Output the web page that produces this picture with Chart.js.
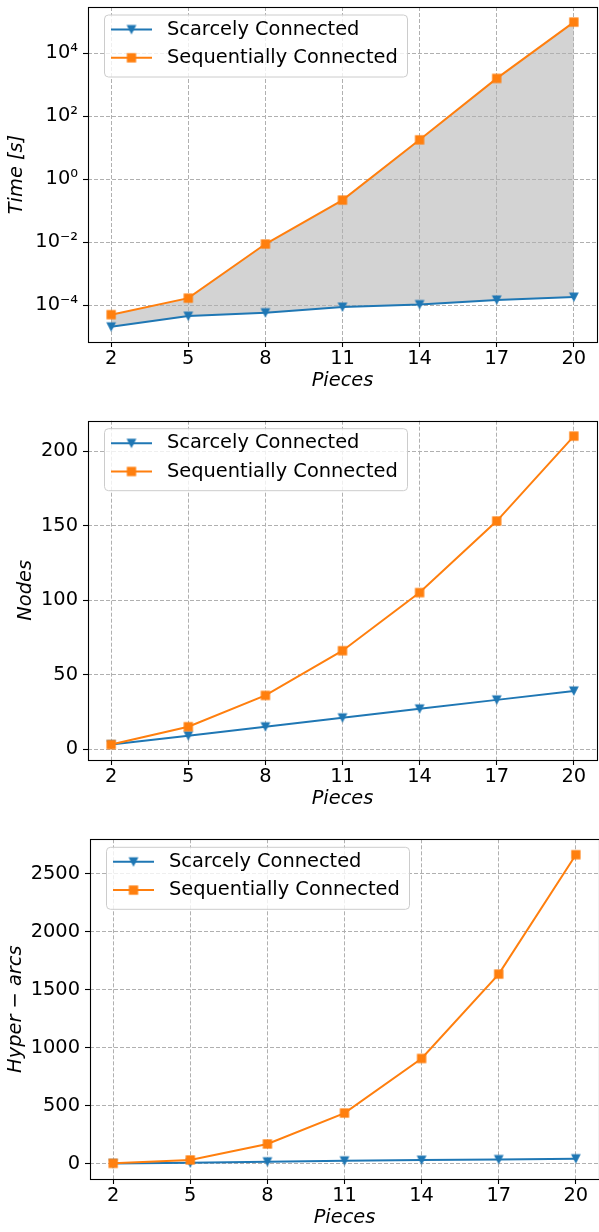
<!DOCTYPE html>
<html>
<head>
<meta charset="utf-8">
<script src="https://cdn.jsdelivr.net/npm/chart.js@4.4.0/dist/chart.umd.min.js"></script>
<style>
html, body { margin: 0; padding: 0; background: #fff; overflow: hidden; width: 599px; height: 1232px; }
canvas { position: absolute; left: 0; }
</style>
</head>
<body>
<canvas id="timeChart" width="604" height="393" style="top:0px"></canvas>
<canvas id="nodesChart" width="604" height="401" style="top:410px"></canvas>
<canvas id="arcsChart" width="606" height="410" style="top:820px"></canvas>
<script>
var pieces = [2, 5, 8, 11, 14, 17, 20];
var labelScarce = 'Scarcely Connected';
var labelSeq = 'Sequentially Connected';

// Time [s], log axis
var timeScarce = [2.1e-5, 4.6e-5, 5.9e-5, 8.9e-5, 1.07e-4, 1.5e-4, 1.85e-4];
var timeSeq = [5.1e-5, 1.7e-4, 8.9e-3, 0.22, 18, 1600, 9.8e4];
var timeTicks = [1e-4, 1e-2, 1, 1e2, 1e4];
var timeTickLabels = ['10\u207B\u2074', '10\u207B\u00B2', '10\u2070', '10\u00B2', '10\u2074'];

// Nodes
var nodesScarce = [3, 9, 15, 21, 27, 33, 39];
var nodesSeq = [3, 15, 36, 66, 105, 153, 210];
var nodesTicks = [0, 50, 100, 150, 200];

// Hyper-arcs
var arcsScarce = [3, 9, 19, 27, 33, 38, 45];
var arcsSeq = [5, 34, 172, 438, 908, 1635, 2663];
var arcsTicks = [0, 500, 1000, 1500, 2000, 2500];

var blue = '#1f77b4';
var orange = '#ff7f0e';
var fontSize = 19.4;

Chart.defaults.font.family = '"DejaVu Sans", sans-serif';
Chart.defaults.font.size = fontSize;
Chart.defaults.color = '#000';

// matplotlib-like markers as little canvases
function markerCanvas(kind, color) {
    var c = document.createElement('canvas');
    c.width = 12; c.height = 12;
    var g = c.getContext('2d');
    g.fillStyle = color;
    g.beginPath();
    if (kind === 'square') {
        g.rect(1.35, 1.35, 9.3, 9.3);
    } else {
        g.moveTo(1.1, 1.4);
        g.lineTo(10.9, 1.4);
        g.lineTo(6, 10.9);
        g.closePath();
    }
    g.fill();
    return c;
}
var triMarker = markerCanvas('tri', blue);
var sqMarker = markerCanvas('square', orange);

function toPoints(ys) {
    return pieces.map(function (p, i) { return { x: p, y: ys[i] }; });
}

var framePlugin = {
    id: 'frame',
    afterDatasetsDraw: function (chart) {
        var a = chart.chartArea, ctx = chart.ctx;
        ctx.save();
        ctx.strokeStyle = '#000';
        ctx.lineWidth = 1.1;
        ctx.strokeRect(Math.round(a.left) + 0.5, Math.round(a.top) + 0.5,
            Math.round(a.right - a.left), Math.round(a.bottom - a.top));
        ctx.restore();
    }
};

var legendPlugin = {
    id: 'mplLegend',
    afterDraw: function (chart) {
        var ctx = chart.ctx, a = chart.chartArea;
        var L = a.left + 16, T = a.top + 7.5;
        ctx.save();
        ctx.beginPath();
        ctx.roundRect(L + 0.5, T + 0.5, 303, 62, 4);
        ctx.fillStyle = 'rgba(255,255,255,0.8)';
        ctx.fill();
        ctx.strokeStyle = '#cccccc';
        ctx.lineWidth = 1;
        ctx.stroke();
        var items = [
            { text: labelScarce, color: blue, marker: triMarker },
            { text: labelSeq, color: orange, marker: sqMarker }
        ];
        items.forEach(function (it, i) {
            var cy = T + 15 + i * 28.3;
            ctx.strokeStyle = it.color;
            ctx.lineWidth = 2;
            ctx.beginPath();
            ctx.moveTo(L + 7, cy);
            ctx.lineTo(L + 48, cy);
            ctx.stroke();
            ctx.drawImage(it.marker, L + 27.5 - 6, cy - 6);
            ctx.fillStyle = '#000';
            ctx.font = fontSize + 'px "DejaVu Sans"';
            ctx.textBaseline = 'middle';
            ctx.textAlign = 'left';
            ctx.fillText(it.text, L + 63, cy);
        });
        ctx.restore();
    }
};

function makeChart(id, cfg) {
    // orange first so it is drawn on top; it fills down to the blue line (index 1)
    var seqSet = {
        label: labelSeq,
        data: toPoints(cfg.seq),
        borderColor: orange,
        backgroundColor: '#d3d3d3',
        borderWidth: 2,
        pointStyle: sqMarker,
        pointRadius: 5,
        tension: 0,
        fill: cfg.shade ? 1 : false
    };
    var scarceSet = {
        label: labelScarce,
        data: toPoints(cfg.scarce),
        borderColor: blue,
        backgroundColor: blue,
        borderWidth: 2,
        pointStyle: triMarker,
        pointRadius: 5,
        tension: 0,
        fill: false
    };
    var grid = {
        color: '#b0b0b0',
        lineWidth: 1,
        drawTicks: true,
        tickLength: 5,
        tickColor: '#000',
        tickWidth: 1.1,
        tickBorderDash: []
    };
    var border = { display: false, dash: [4, 2] };
    return new Chart(document.getElementById(id), {
        type: 'line',
        data: { datasets: [seqSet, scarceSet] },
        options: {
            responsive: false,
            animation: false,
            events: [],
            layout: { padding: { top: cfg.padTop, right: 2.5, bottom: 0, left: 0 } },
            plugins: {
                legend: { display: false },
                tooltip: { enabled: false },
                filler: { drawTime: 'beforeDraw' }
            },
            scales: {
                x: {
                    type: 'linear',
                    min: 1.1,
                    max: 20.9,
                    grid: grid,
                    border: border,
                    ticks: { padding: 0.5, maxRotation: 0, callback: function (v) { return String(v); } },
                    afterBuildTicks: function (scale) {
                        scale.ticks = pieces.map(function (p) { return { value: p }; });
                    },
                    afterFit: function (scale) {
                        scale.height = 51;
                        scale.paddingLeft = 0;
                        scale.paddingRight = 0;
                    },
                    title: {
                        display: true,
                        text: 'Pieces',
                        font: { style: 'italic', size: fontSize },
                        padding: { top: 0, bottom: 0 }
                    }
                },
                y: {
                    type: cfg.yType,
                    min: cfg.yMin,
                    max: cfg.yMax,
                    bounds: 'data',
                    grid: grid,
                    border: border,
                    ticks: {
                        padding: 5,
                        callback: cfg.yLabel
                    },
                    afterBuildTicks: function (scale) {
                        scale.ticks = cfg.yTicks.map(function (v) { return { value: v }; });
                    },
                    afterFit: function (scale) {
                        scale.width = cfg.axisWidth;
                        scale.paddingTop = 0;
                        scale.paddingBottom = 0;
                    },
                    title: {
                        display: true,
                        text: cfg.yTitle,
                        font: { style: 'italic', size: fontSize },
                        padding: cfg.yTitlePad
                    }
                }
            }
        },
        plugins: [framePlugin, legendPlugin]
    });
}

makeChart('timeChart', {
    scarce: timeScarce,
    seq: timeSeq,
    shade: true,
    yType: 'logarithmic',
    yMin: Math.pow(10, -5.16),
    yMax: Math.pow(10, 5.47),
    yTicks: timeTicks,
    yLabel: function (v) {
        var i = timeTicks.findIndex(function (t) { return Math.abs(Math.log10(t) - Math.log10(v)) < 1e-6; });
        return i >= 0 ? timeTickLabels[i] : '';
    },
    yTitle: 'Time [s]',
    yTitlePad: 5,
    axisWidth: 88,
    padTop: 2.5
});

makeChart('nodesChart', {
    scarce: nodesScarce,
    seq: nodesSeq,
    shade: false,
    yType: 'linear',
    yMin: -7.35,
    yMax: 220.35,
    yTicks: nodesTicks,
    yLabel: function (v) { return String(v); },
    yTitle: 'Nodes',
    yTitlePad: 14.4,
    axisWidth: 88,
    padTop: 10.7
});

makeChart('arcsChart', {
    scarce: arcsScarce,
    seq: arcsSeq,
    shade: false,
    yType: 'linear',
    yMin: -130,
    yMax: 2796,
    yTicks: arcsTicks,
    yLabel: function (v) { return String(v); },
    yTitle: 'Hyper \u2212 arcs',
    yTitlePad: 3.9,
    axisWidth: 90,
    padTop: 19.3
});
</script>
</body>
</html>
